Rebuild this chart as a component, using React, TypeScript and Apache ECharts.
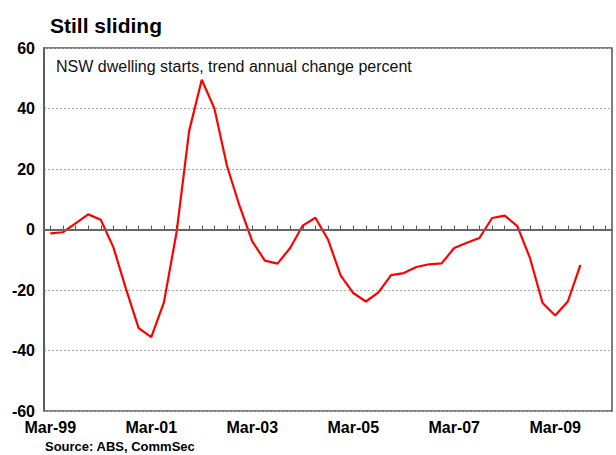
import React, { useEffect, useRef } from "react";
import * as echarts from "echarts";

// Quarterly categories, Mar-99 through Mar-10
const quarters: string[] = [
  "Mar-99", "Jun-99", "Sep-99", "Dec-99",
  "Mar-00", "Jun-00", "Sep-00", "Dec-00",
  "Mar-01", "Jun-01", "Sep-01", "Dec-01",
  "Mar-02", "Jun-02", "Sep-02", "Dec-02",
  "Mar-03", "Jun-03", "Sep-03", "Dec-03",
  "Mar-04", "Jun-04", "Sep-04", "Dec-04",
  "Mar-05", "Jun-05", "Sep-05", "Dec-05",
  "Mar-06", "Jun-06", "Sep-06", "Dec-06",
  "Mar-07", "Jun-07", "Sep-07", "Dec-07",
  "Mar-08", "Jun-08", "Sep-08", "Dec-08",
  "Mar-09", "Jun-09", "Sep-09", "Dec-09",
  "Mar-10",
];

// NSW dwelling starts, trend, annual % change
const nswStartsChange: number[] = [
  -1.3, -0.9, 2.0, 5.0, 3.2, -5.9, -19.7, -32.6, -35.6, -24.1,
  -1.0, 32.6, 49.5, 40.0, 21.0, 7.7, -3.9, -10.3, -11.3, -6.1,
  1.3, 3.9, -3.3, -15.2, -21.0, -23.8, -20.8, -15.1, -14.4, -12.4,
  -11.5, -11.2, -6.1, -4.4, -2.8, 3.8, 4.6, 1.1, -9.4, -24.3,
  -28.4, -23.8, -11.7,
];

const yTicks = { min: -60, max: 60, step: 20 };

const FONT = "'Liberation Sans', Arial, Helvetica, sans-serif";

export default function App() {
  const ref = useRef<HTMLDivElement>(null);

  useEffect(() => {
    if (!ref.current) return;
    const chart = echarts.init(ref.current, undefined, { renderer: "svg" });

    chart.setOption({
      animation: false,
      backgroundColor: "#ffffff",
      textStyle: { fontFamily: FONT },
      title: [
        {
          text: "Still sliding",
          left: 45,
          top: 10,
          textStyle: { fontFamily: FONT, fontSize: 21, fontWeight: "bold", color: "#000" },
        },
        {
          text: "NSW dwelling starts, trend annual change percent",
          left: 51,
          top: 53,
          textStyle: { fontFamily: FONT, fontSize: 16, fontWeight: "normal", color: "#111" },
        },
      ],
      graphic: [
        {
          type: "text",
          left: 45,
          top: 440,
          style: {
            text: "Source: ABS, CommSec",
            fontFamily: FONT,
            fontSize: 13,
            fontWeight: "bold",
            fill: "#000",
          },
        },
      ],
      grid: {
        left: 44,
        right: 4,
        top: 48,
        bottom: 44,
        show: true,
        borderColor: "#555",
        borderWidth: 1.5,
        backgroundColor: "transparent",
      },
      xAxis: {
        type: "category",
        data: quarters,
        boundaryGap: true,
        axisLine: { show: true, lineStyle: { color: "#555", width: 1.5 } },
        axisTick: {
          show: true,
          inside: true,
          length: 4,
          interval: 0,
          alignWithLabel: true,
          lineStyle: { color: "#555", width: 1 },
        },
        axisLabel: {
          interval: 7,
          margin: 8,
          fontFamily: FONT,
          fontSize: 16,
          fontWeight: "bold",
          color: "#000",
        },
        splitLine: { show: false },
      },
      yAxis: {
        type: "value",
        min: yTicks.min,
        max: yTicks.max,
        interval: yTicks.step,
        axisLine: { show: true, lineStyle: { color: "#555", width: 1.5 } },
        axisTick: { show: false },
        axisLabel: {
          margin: 9,
          fontFamily: FONT,
          fontSize: 16,
          fontWeight: "bold",
          color: "#000",
        },
        splitLine: {
          show: true,
          lineStyle: { color: "#aaa", type: [2, 2], width: 1 },
        },
      },
      series: [
        {
          type: "line",
          data: nswStartsChange,
          symbol: "none",
          lineStyle: { color: "#ff0000", width: 2.2 },
          markLine: {
            silent: true,
            symbol: "none",
            label: { show: false },
            lineStyle: { color: "#666", type: "solid", width: 2 },
            data: [{ yAxis: 0 }],
          },
        },
      ],
    });

    return () => chart.dispose();
  }, []);

  return (
    <div
      ref={ref}
      style={{ position: "fixed", left: 0, top: 0, width: 616, height: 455 }}
    />
  );
}
